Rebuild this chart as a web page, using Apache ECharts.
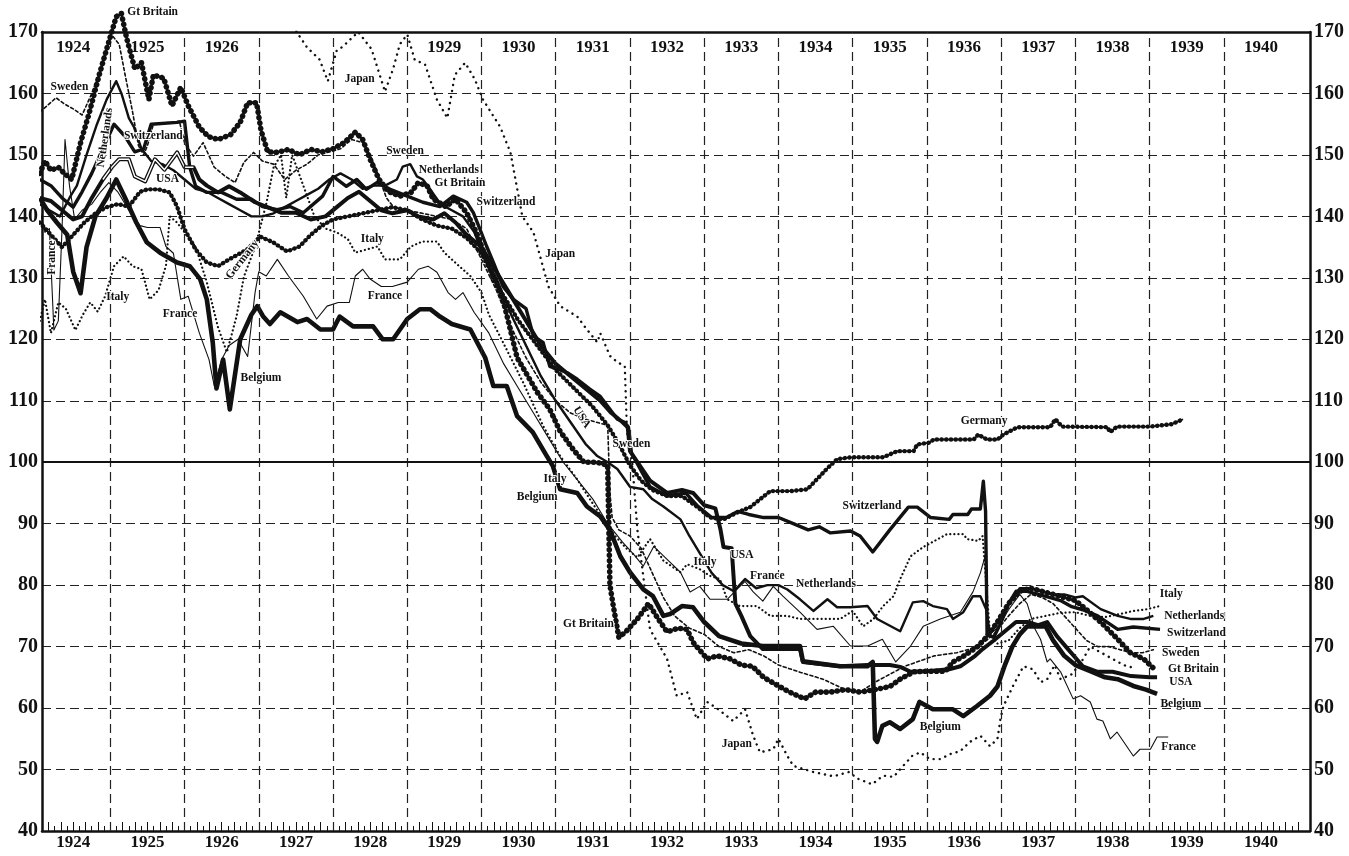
<!DOCTYPE html>
<html>
<head>
<meta charset="utf-8">
<script src="https://cdn.jsdelivr.net/npm/echarts@6/dist/echarts.min.js"></script>
<style>
  html, body { margin: 0; background: #fff; }
  #chart { width: 1349px; height: 856px; }
</style>
</head>
<body>
<div id="chart"></div>
<script>
// wholesale price indices in gold, [year, index]
const GT_BRITAIN = [[1924.05,147],[1924.12,149],[1924.2,147.5],[1924.3,148],[1924.38,147],[1924.48,146],[1924.6,152],[1924.72,157],[1924.85,163],[1924.97,168],[1925.08,172.5],[1925.15,173],[1925.22,169],[1925.33,164],[1925.42,165],[1925.52,159],[1925.58,163],[1925.72,162.5],[1925.83,158],[1925.95,161],[1926.05,158],[1926.2,154.5],[1926.32,153],[1926.45,152.5],[1926.62,153.3],[1926.75,155.3],[1926.85,158.5],[1926.97,158.5],[1927.03,154],[1927.12,150.5],[1927.25,150.4],[1927.4,150.9],[1927.55,150],[1927.7,150.9],[1927.85,150.5],[1928.0,151],[1928.15,152],[1928.3,153.7],[1928.4,152.5],[1928.5,149.3],[1928.62,146],[1928.75,144],[1928.9,143.3],[1929.05,143.9],[1929.15,145.5],[1929.27,144.9],[1929.35,142.8],[1929.52,141.6],[1929.65,142.8],[1929.8,140.6],[1929.93,137.4],[1930.1,132],[1930.3,126],[1930.48,117],[1930.75,111.4],[1930.92,108.6],[1931.06,105],[1931.24,102],[1931.38,100],[1931.55,100],[1931.7,99.5],[1931.73,80],[1931.77,77],[1931.85,71.5],[1931.95,72.5],[1932.1,74.5],[1932.25,77],[1932.38,74.5],[1932.5,72.4],[1932.65,73],[1932.77,72.8],[1932.85,70.7],[1933.04,68],[1933.17,68.5],[1933.35,68],[1933.5,67],[1933.65,66.8],[1933.8,65],[1934.0,63.6],[1934.15,62.6],[1934.35,61.5],[1934.5,62.6],[1934.7,62.6],[1934.9,63],[1935.1,62.6],[1935.3,63],[1935.5,63.5],[1935.64,64.7],[1935.82,65.9],[1936.0,66],[1936.25,66],[1936.35,67.5],[1936.5,68.5],[1936.68,70],[1936.8,71.5],[1936.95,74],[1937.1,77],[1937.25,79],[1937.4,79.5],[1937.55,79],[1937.7,78.5],[1937.85,78],[1938.0,77.5],[1938.15,76],[1938.34,74],[1938.57,71.2],[1938.74,69],[1938.92,68],[1939.05,66.5]];

const SWEDEN = [[1924.05,157],[1924.15,158],[1924.27,159.3],[1924.38,158.3],[1924.5,157.5],[1924.62,156.5],[1924.75,160],[1924.9,165],[1925.02,169.5],[1925.12,168],[1925.2,163],[1925.3,157],[1925.38,151.5],[1925.45,150],[1925.5,151.5],[1925.58,155],[1925.7,155.2],[1925.85,155.3],[1925.93,155.5],[1926.0,152],[1926.12,149.8],[1926.25,152],[1926.4,148],[1926.55,146.5],[1926.68,145.5],[1926.8,148.8],[1926.93,150.4],[1927.05,149],[1927.2,148.5],[1927.35,146],[1927.5,147.5],[1927.65,148.5],[1927.8,150],[1927.95,150.5],[1928.1,151],[1928.25,152.5],[1928.4,152],[1928.5,150],[1928.6,147],[1928.72,143],[1928.85,141],[1929.0,141],[1929.2,140.5],[1929.4,140],[1929.6,139.5],[1929.8,138],[1930.0,133],[1930.2,128],[1930.4,122],[1930.6,117],[1930.8,113],[1931.0,110],[1931.2,108],[1931.4,107],[1931.55,106.5],[1931.7,106],[1931.73,95],[1931.76,91],[1931.85,89],[1932.0,88],[1932.15,86],[1932.3,82],[1932.45,78],[1932.6,75],[1932.8,73],[1933.0,72],[1933.2,70],[1933.4,69],[1933.6,69.5],[1933.8,68.5],[1934.0,67],[1934.3,65.8],[1934.6,64.7],[1934.9,63],[1935.1,62.6],[1935.3,64.2],[1935.5,65.5],[1935.7,66.8],[1936.1,68.5],[1936.4,69],[1936.7,70],[1936.9,72],[1937.1,75],[1937.25,77],[1937.4,78.5],[1937.55,78],[1937.7,77],[1937.85,75],[1938.0,73],[1938.15,71],[1938.3,70],[1938.45,70],[1938.6,69.5],[1938.75,69],[1938.9,69],[1939.05,69.5]];

const NETHERLANDS = [[1924.05,142],[1924.18,141],[1924.32,140],[1924.45,143],[1924.55,145],[1924.68,150],[1924.82,155],[1924.95,159],[1925.08,162],[1925.15,160],[1925.25,156],[1925.32,154.5],[1925.42,151],[1925.55,149],[1925.7,148.5],[1925.85,147.5],[1926.0,146],[1926.15,144.5],[1926.3,144],[1926.45,143],[1926.6,142],[1926.75,141],[1926.9,140],[1927.05,140],[1927.2,140.5],[1927.35,141.5],[1927.5,142.5],[1927.65,143.5],[1927.8,144.5],[1927.95,146],[1928.1,147],[1928.25,146],[1928.4,144.5],[1928.55,145],[1928.7,145],[1928.86,146],[1928.94,148.1],[1929.04,148.5],[1929.13,146.5],[1929.21,146],[1929.31,144.4],[1929.45,142],[1929.6,141],[1929.75,140],[1929.9,137.5],[1930.05,133],[1930.2,130],[1930.4,124],[1930.6,119],[1930.8,114],[1931.0,110],[1931.2,106.5],[1931.4,103],[1931.56,101],[1931.7,100],[1931.83,98.9],[1932.0,96],[1932.18,95.6],[1932.3,94],[1932.45,92.8],[1932.68,90.7],[1932.8,88],[1932.95,85],[1933.1,82],[1933.25,80],[1933.4,79],[1933.55,81],[1933.7,79.5],[1933.85,80],[1934.0,80],[1934.12,79.3],[1934.29,77.7],[1934.47,75.8],[1934.66,77.7],[1934.79,76.4],[1934.97,76.4],[1935.2,76.6],[1935.33,74.5],[1935.64,72.5],[1935.81,77.2],[1935.95,77.4],[1936.08,76.6],[1936.27,76.1],[1936.35,74.5],[1936.49,75.6],[1936.62,78.2],[1936.72,78.2],[1936.8,76],[1936.85,72],[1936.95,74],[1937.1,77],[1937.25,79.5],[1937.4,79.5],[1937.55,79],[1937.7,78.5],[1937.85,78.5],[1938.0,78],[1938.1,78.2],[1938.34,76.1],[1938.57,75],[1938.74,74.5],[1938.92,74.5],[1939.05,75]];

const SWITZERLAND = [[1924.05,146],[1924.2,145],[1924.35,143],[1924.5,141.5],[1924.62,144],[1924.75,147],[1924.9,151],[1925.05,155],[1925.2,153],[1925.33,150.5],[1925.45,151],[1925.55,155],[1925.9,155.3],[1926.0,155.5],[1926.07,148],[1926.15,144.9],[1926.3,143.9],[1926.5,143.9],[1926.7,142.8],[1926.9,142.8],[1927.05,141.6],[1927.25,141.1],[1927.42,141.6],[1927.6,140.6],[1927.86,143.3],[1928.0,146.5],[1928.18,144.9],[1928.32,146],[1928.45,144.4],[1928.59,145.5],[1928.77,144.4],[1929.0,143.3],[1929.21,142.3],[1929.44,141.6],[1929.62,143.3],[1929.8,142.3],[1929.89,140.6],[1929.98,137.9],[1930.07,135.1],[1930.16,132.5],[1930.29,128.6],[1930.43,126.5],[1930.6,125],[1930.7,120.5],[1930.83,119.5],[1930.92,115.6],[1931.15,114.6],[1931.29,113.5],[1931.46,111.9],[1931.6,110.7],[1931.73,108.6],[1931.83,107],[1931.93,106.5],[1931.98,105.7],[1932.02,101.5],[1932.27,96],[1932.5,94.5],[1932.75,95],[1932.9,93],[1933.1,91],[1933.3,91],[1933.45,92],[1933.6,91.5],[1933.8,91],[1934.0,91],[1934.2,90],[1934.4,89],[1934.55,89.5],[1934.7,88.5],[1934.97,88.8],[1935.1,88],[1935.27,85.4],[1935.5,89],[1935.75,92.7],[1935.87,92.7],[1936.05,91],[1936.3,90.7],[1936.35,91.5],[1936.55,91.5],[1936.6,92.4],[1936.72,92.4],[1936.76,96.9],[1936.79,92],[1936.81,72],[1936.9,71.5],[1937.0,74],[1937.1,77],[1937.2,79],[1937.35,79],[1937.5,78.5],[1937.65,78],[1937.8,77.5],[1937.95,76.5],[1938.1,76],[1938.3,75],[1938.57,72.8],[1938.78,73.2],[1939.14,72.8]];

const USA = [[1924.05,143],[1924.2,142.5],[1924.35,141],[1924.5,139.5],[1924.62,140],[1924.75,143],[1924.9,146],[1925.02,148],[1925.12,149.3],[1925.25,149.3],[1925.33,146.5],[1925.47,145.7],[1925.6,149.3],[1925.73,147.6],[1925.9,150.4],[1926.0,148],[1926.12,148],[1926.2,146],[1926.3,145],[1926.45,143.9],[1926.6,144.9],[1926.75,143.9],[1926.95,142.3],[1927.1,141.6],[1927.3,140.6],[1927.5,140.6],[1927.7,139.5],[1927.9,140],[1928.05,141.5],[1928.2,143],[1928.35,144],[1928.5,142.5],[1928.65,141],[1928.8,140.5],[1929.0,141],[1929.15,140],[1929.35,139.5],[1929.5,140.5],[1929.65,139],[1929.8,137],[1930.0,135],[1930.2,131],[1930.35,128],[1930.5,125],[1930.65,122],[1930.8,119],[1931.0,116],[1931.2,114],[1931.4,112],[1931.6,110],[1931.75,108],[1931.9,106.5],[1931.97,105.7],[1932.0,101.8],[1932.27,97],[1932.5,95],[1932.7,95.5],[1932.85,95],[1933.0,93],[1933.15,92.5],[1933.22,89],[1933.26,86.2],[1933.37,86],[1933.42,77],[1933.5,75],[1933.62,71.7],[1933.79,69.6],[1934.29,69.6],[1934.33,67.5],[1934.83,66.8],[1935.2,67],[1935.5,67],[1935.64,66.7],[1935.78,65.9],[1936.0,66],[1936.3,66.3],[1936.45,66.8],[1936.65,68.5],[1936.75,69.6],[1936.9,71],[1937.05,72.5],[1937.2,74],[1937.35,74],[1937.5,73.5],[1937.62,74],[1937.75,71.7],[1937.9,69.6],[1938.1,66.8],[1938.3,65.9],[1938.5,65.9],[1938.75,65.2],[1939.0,65],[1939.1,65]];

const BELGIUM = [[1924.05,143],[1924.15,141],[1924.28,139],[1924.42,137],[1924.5,131],[1924.6,127.5],[1924.68,135],[1924.8,140],[1924.95,143],[1925.08,146],[1925.2,143],[1925.35,139],[1925.49,135.8],[1925.67,134.1],[1925.9,132.5],[1926.07,131.9],[1926.21,129.8],[1926.3,126.5],[1926.38,119.5],[1926.43,112],[1926.52,116.7],[1926.61,108.6],[1926.75,120],[1926.9,124],[1926.98,125.4],[1927.06,123.7],[1927.15,122.5],[1927.29,124.4],[1927.52,122.8],[1927.65,123.3],[1927.83,121.6],[1928.0,121.6],[1928.09,123.7],[1928.27,122.1],[1928.54,122.1],[1928.67,120],[1928.81,120],[1929.0,123.3],[1929.17,124.9],[1929.31,124.9],[1929.44,123.7],[1929.6,122.5],[1929.85,121.6],[1930.05,117],[1930.16,112.4],[1930.34,112.4],[1930.48,107.5],[1930.69,104.9],[1930.88,101],[1930.96,99.4],[1931.06,95.6],[1931.29,95],[1931.42,92.8],[1931.6,91.2],[1931.73,89],[1931.87,84.7],[1932.0,82.1],[1932.18,79.3],[1932.31,78.2],[1932.45,75],[1932.54,75.3],[1932.7,76.6],[1932.85,76.4],[1933.0,74],[1933.2,71.7],[1933.5,70.5],[1933.79,70.1],[1934.29,70.1],[1934.33,67.6],[1934.83,66.8],[1935.2,66.8],[1935.27,67.5],[1935.3,55],[1935.33,54.5],[1935.4,57.1],[1935.5,57.7],[1935.64,56.6],[1935.81,58.2],[1935.9,61],[1936.08,59.8],[1936.35,59.8],[1936.49,58.7],[1936.67,60.3],[1936.85,62],[1936.95,63.5],[1937.05,67],[1937.15,70],[1937.25,72],[1937.35,73.3],[1937.6,73.3],[1937.7,71],[1937.85,68.5],[1938.0,67],[1938.2,66],[1938.4,65],[1938.57,64.7],[1938.78,63.6],[1938.95,63],[1939.1,62.3]];

const FRANCE = [[1924.05,141],[1924.12,137.4],[1924.18,138],[1924.24,121.5],[1924.3,123],[1924.35,138],[1924.39,152.5],[1924.45,145],[1924.52,139.5],[1924.62,141],[1924.75,142],[1924.87,144],[1924.98,145.5],[1925.1,144],[1925.25,141],[1925.4,138.5],[1925.5,138.2],[1925.67,138.2],[1925.75,135.1],[1925.85,134],[1925.95,126.5],[1926.05,127],[1926.2,121],[1926.33,116.7],[1926.4,112.4],[1926.5,116.7],[1926.6,119],[1926.72,120],[1926.85,117.2],[1926.95,127.6],[1927.0,131],[1927.1,130.3],[1927.25,133],[1927.4,130.3],[1927.6,127],[1927.78,123.3],[1927.92,125.4],[1928.07,126],[1928.22,126],[1928.3,130.3],[1928.4,131.4],[1928.5,129.8],[1928.65,128.6],[1928.8,128.6],[1929.0,129.3],[1929.15,131.4],[1929.28,131.9],[1929.4,130.9],[1929.55,127.6],[1929.65,126.5],[1929.75,127.6],[1929.9,124.4],[1930.1,121],[1930.3,116],[1930.5,112],[1930.7,108],[1930.9,104],[1931.1,100],[1931.3,97],[1931.5,94],[1931.7,90],[1931.9,87],[1932.05,85],[1932.18,83.1],[1932.32,86.3],[1932.5,84.2],[1932.68,82.1],[1932.81,78.9],[1932.94,79.8],[1933.08,77.7],[1933.31,77.7],[1933.44,79.3],[1933.55,80.6],[1933.66,78.9],[1933.79,77.4],[1933.93,79.8],[1934.06,78.2],[1934.3,75.5],[1934.52,72.8],[1934.74,73.3],[1934.97,70.1],[1935.2,70.1],[1935.4,71.2],[1935.58,67.5],[1935.78,70.1],[1935.95,73.3],[1936.18,74.5],[1936.45,75.6],[1936.62,78.9],[1936.72,82],[1936.79,85],[1936.83,72],[1936.95,73],[1937.1,76],[1937.25,78.5],[1937.35,77],[1937.45,73],[1937.53,71.2],[1937.62,67.5],[1937.66,68],[1937.8,65.9],[1937.97,61.5],[1938.07,62],[1938.2,61],[1938.29,58.2],[1938.37,57.9],[1938.47,55],[1938.56,56.1],[1938.78,52.2],[1938.87,53.3],[1939.01,53.3],[1939.1,55.3],[1939.25,55.3]];

const ITALY = [[1924.05,123],[1924.12,126.5],[1924.2,121],[1924.3,126],[1924.4,125],[1924.53,121.5],[1924.63,124],[1924.73,126],[1924.83,124.5],[1924.93,127],[1925.05,131.9],[1925.18,133.5],[1925.3,131.9],[1925.42,131.4],[1925.53,126.5],[1925.65,128],[1925.75,132],[1925.8,140],[1925.9,139],[1926.0,137.4],[1926.15,135],[1926.3,129.3],[1926.45,122],[1926.57,117.9],[1926.7,123.7],[1926.8,130.2],[1926.95,135],[1927.1,142],[1927.2,148],[1927.3,150],[1927.37,143],[1927.45,150],[1927.6,145],[1927.75,140],[1927.9,138],[1928.05,137.4],[1928.2,136.3],[1928.3,134.1],[1928.45,134.6],[1928.6,135.1],[1928.7,133],[1928.9,133],[1929.05,135.1],[1929.2,135.9],[1929.4,135.9],[1929.5,134.1],[1929.7,131.9],[1929.85,130.3],[1930.0,127.6],[1930.1,124],[1930.29,119.5],[1930.56,113],[1930.83,105.9],[1931.06,101],[1931.29,97.2],[1931.46,94],[1931.64,90.7],[1931.8,88],[1931.95,86],[1932.1,84.5],[1932.27,87.5],[1932.45,84],[1932.68,82.1],[1932.77,83.4],[1932.94,82.6],[1933.08,81.5],[1933.21,81],[1933.31,77.7],[1933.48,76.6],[1933.71,76.6],[1933.89,75],[1934.12,75],[1934.29,74.5],[1934.83,74.5],[1935.0,75.8],[1935.14,73.3],[1935.28,74.5],[1935.41,76.6],[1935.55,78.2],[1935.64,81],[1935.78,84.7],[1935.95,86.2],[1936.27,88.3],[1936.49,88.3],[1936.54,87.5],[1936.69,87.2],[1936.75,88],[1936.8,80],[1936.85,72],[1936.95,70.5],[1937.1,71],[1937.25,73],[1937.4,74.5],[1937.6,75],[1937.8,75.5],[1938.0,75.6],[1938.2,75],[1938.4,74.8],[1938.6,75.3],[1938.78,75.8],[1938.97,76.1],[1939.14,76.6]];

const GERMANY = [[1924.05,139],[1924.2,137],[1924.35,135],[1924.5,137],[1924.65,139],[1924.8,140.5],[1924.95,141.5],[1925.1,142],[1925.25,141.6],[1925.4,144],[1925.5,144.4],[1925.65,144.4],[1925.8,143.9],[1925.9,141.6],[1926.0,137.9],[1926.15,134.6],[1926.3,132.5],[1926.45,131.9],[1926.6,133],[1926.84,134.6],[1927.02,136.7],[1927.19,135.8],[1927.38,134.3],[1927.55,135.1],[1927.7,137],[1927.85,138.5],[1928.0,139.5],[1928.2,140],[1928.4,140.5],[1928.6,141],[1928.8,141.5],[1929.0,141],[1929.2,139.5],[1929.4,138.5],[1929.6,138],[1929.8,136.5],[1930.0,134],[1930.25,128],[1930.5,123],[1930.75,119],[1931.0,115],[1931.25,112],[1931.5,109],[1931.7,106],[1931.85,103],[1932.0,99.5],[1932.15,97],[1932.3,95.5],[1932.5,94.5],[1932.7,94.5],[1932.9,92.8],[1933.08,91],[1933.26,90.7],[1933.44,91.8],[1933.62,92.7],[1933.89,95.3],[1934.16,95.3],[1934.39,95.6],[1934.65,98.9],[1934.79,100.5],[1934.97,100.8],[1935.41,100.8],[1935.6,101.8],[1935.82,101.8],[1935.87,102.9],[1936.04,103.2],[1936.09,103.7],[1936.63,103.7],[1936.69,104.5],[1936.81,103.7],[1936.95,103.7],[1937.03,104.5],[1937.22,105.7],[1937.66,105.7],[1937.73,107],[1937.82,105.8],[1938.43,105.7],[1938.47,104.9],[1938.56,105.8],[1939.01,105.8],[1939.3,106.2],[1939.45,107]];

const JAPAN = [[1927.45,172],[1927.51,170],[1927.65,167.5],[1927.82,165.5],[1927.93,162],[1928.05,167],[1928.13,167.6],[1928.25,169],[1928.34,170],[1928.52,167.2],[1928.7,160.3],[1928.81,164],[1928.9,168],[1929.0,169.6],[1929.1,165.5],[1929.24,164.7],[1929.4,159],[1929.54,156],[1929.64,163],[1929.78,165],[1929.91,162.3],[1930.02,159],[1930.25,154.6],[1930.39,150.4],[1930.49,143.9],[1930.55,140],[1930.7,137.4],[1930.79,133.5],[1930.9,128.6],[1931.06,125.4],[1931.29,123.7],[1931.42,121.6],[1931.56,119.5],[1931.6,121],[1931.73,117.3],[1931.83,116.3],[1931.93,115.6],[1931.96,105],[1932.03,100],[1932.1,89],[1932.27,72.8],[1932.5,68],[1932.63,62],[1932.77,62.6],[1932.9,58.2],[1933.04,61],[1933.19,59.8],[1933.39,57.9],[1933.55,59.8],[1933.66,55.5],[1933.75,52.8],[1933.93,53.3],[1934.0,55],[1934.12,52.2],[1934.2,50.6],[1934.47,49.6],[1934.74,48.9],[1934.95,49.6],[1935.07,48.5],[1935.26,47.6],[1935.41,49],[1935.55,48.8],[1935.68,50.6],[1935.8,52.2],[1935.91,52.8],[1936.04,51.7],[1936.18,51.7],[1936.31,52.5],[1936.45,53],[1936.58,54.5],[1936.72,55.5],[1936.85,53.8],[1936.95,55],[1936.99,58.2],[1937.03,60.3],[1937.16,63.6],[1937.3,66.8],[1937.43,66.3],[1937.53,64.2],[1937.62,64.7],[1937.72,67],[1937.8,64.7],[1937.95,65.5],[1938.08,67.5],[1938.2,70],[1938.35,69],[1938.5,68],[1938.65,67],[1938.8,66.5]];

const TOP_YEARS = [1924, 1925, 1926, 1929, 1930, 1931, 1932, 1933, 1934, 1935, 1936, 1937, 1938, 1939, 1940];
const BOTTOM_YEARS = [1924, 1925, 1926, 1927, 1928, 1929, 1930, 1931, 1932, 1933, 1934, 1935, 1936, 1937, 1938, 1939, 1940];

// text annotations: [text, year, index, rotation in degrees]
const LABELS = [
  ['Gt Britain', 1925.57, 173.3, 0],
  ['Sweden', 1924.45, 161, 0],
  ['Netherlands', 1924.93, 152.8, 82],
  ['Switzerland', 1925.58, 153, 0],
  ['USA', 1925.77, 146, 0],
  ['France', 1924.21, 133.3, 90],
  ['Italy', 1925.1, 126.8, 0],
  ['France', 1925.94, 124.1, 0],
  ['Germany', 1926.78, 133, 52],
  ['Belgium', 1927.03, 113.7, 0],
  ['Japan', 1928.36, 162.3, 0],
  ['Sweden', 1928.97, 150.6, 0],
  ['Netherlands', 1929.56, 147.6, 0],
  ['Gt Britain', 1929.71, 145.5, 0],
  ['Switzerland', 1930.33, 142.3, 0],
  ['Italy', 1928.53, 136.3, 0],
  ['France', 1928.7, 127, 0],
  ['Japan', 1931.06, 133.8, 0],
  ['USA', 1931.35, 107.3, -58],
  ['Sweden', 1932.02, 102.9, 0],
  ['Italy', 1930.99, 97.2, 0],
  ['Belgium', 1930.75, 94.3, 0],
  ['Germany', 1936.77, 106.7, 0],
  ['Switzerland', 1935.26, 92.8, 0],
  ['Italy', 1933.01, 83.7, 0],
  ['USA', 1933.51, 84.9, 0],
  ['France', 1933.85, 81.5, 0],
  ['Netherlands', 1934.64, 80.2, 0],
  ['Gt Britain', 1931.44, 73.7, 0],
  ['Japan', 1933.44, 54.1, 0],
  ['Belgium', 1936.18, 56.9, 0],
  ['Italy', 1939.29, 78.5, 0],
  ['Netherlands', 1939.6, 75, 0],
  ['Switzerland', 1939.63, 72.2, 0],
  ['Sweden', 1939.42, 68.9, 0],
  ['Gt Britain', 1939.59, 66.3, 0],
  ['USA', 1939.42, 64.2, 0],
  ['Belgium', 1939.42, 60.7, 0],
  ['France', 1939.39, 53.7, 0]
];

const X_MIN = 1924.08;
const X_MAX = 1941.16;
const INK = '#111';
const SERIF = '"Liberation Serif", "DejaVu Serif", serif';

function lineSeries(name, data, style) {
  return {
    name,
    type: 'line',
    data,
    xAxisIndex: 0,
    yAxisIndex: 0,
    silent: true,
    animation: false,
    clip: style.clip !== false,
    showSymbol: false,
    lineStyle: {
      color: style.color || INK,
      width: style.width,
      type: style.dash || 'solid',
      cap: style.dash ? 'round' : 'butt',
      join: 'round'
    },
    z: style.z || 3
  };
}

const monthTicks = [];
for (let m = 0; m <= 17 * 12; m++) {
  const v = 1924 + m / 12;
  if (v > X_MIN && v < X_MAX) monthTicks.push(v);
}
const longTicks = monthTicks.filter((_, i) => i % 2 === 1);

const series = [
  lineSeries('France', FRANCE, { width: 1.1 }),
  lineSeries('Japan', JAPAN, { width: 2.4, dash: [0.1, 6] }),
  lineSeries('Italy', ITALY, { width: 2.2, dash: [0.1, 4] }),
  lineSeries('Sweden', SWEDEN, { width: 1.6, dash: [3, 2.6] }),
  lineSeries('Netherlands', NETHERLANDS, { width: 2.4 }),
  lineSeries('Switzerland', SWITZERLAND, { width: 3.4 }),
  lineSeries('USA', USA, { width: 4 }),
  lineSeries('USA hollow', USA.filter(p => p[0] >= 1924.9 && p[0] <= 1926.12), { width: 1.4, color: '#fff', z: 4 }),
  lineSeries('Belgium', BELGIUM, { width: 4.6 }),
  lineSeries('Germany', GERMANY, { width: 1.8 }),
  lineSeries('Germany beads', GERMANY, { width: 4.4, dash: [0.1, 4.6], z: 5 }),
  lineSeries('Gt Britain', GT_BRITAIN, { width: 2.2, clip: false }),
  lineSeries('Gt Britain beads', GT_BRITAIN, { width: 5.6, dash: [0.1, 5.4], clip: false, z: 5 })
];

// grid: dashed year boundaries and the solid 100 line
series[0].markLine = {
  silent: true,
  symbol: 'none',
  animation: false,
  label: { show: false },
  lineStyle: { color: '#222', width: 1.2, type: [9, 5] },
  data: BOTTOM_YEARS.slice(1).map(y => ({ xAxis: y })).concat([
    { yAxis: 100, lineStyle: { type: 'solid', width: 1.8, color: INK } }
  ])
};

const yearLabel = v => String(Math.floor(v));

const option = {
  animation: false,
  backgroundColor: '#fff',
  grid: { left: 42, right: 39, top: 32, bottom: 25 },
  xAxis: [
    {
      type: 'value', position: 'bottom', min: X_MIN, max: X_MAX,
      axisLine: { show: true, onZero: false, lineStyle: { color: INK, width: 2.5 } },
      axisTick: { show: true, inside: true, length: 5, customValues: monthTicks, lineStyle: { color: INK, width: 1 } },
      axisLabel: {
        customValues: BOTTOM_YEARS.map(y => y + 0.5), formatter: yearLabel,
        fontFamily: SERIF, fontSize: 17, fontWeight: 'bold', color: INK, margin: 3
      },
      splitLine: { show: false }
    },
    {
      type: 'value', position: 'bottom', min: X_MIN, max: X_MAX,
      axisLine: { show: false, onZero: false },
      axisTick: { show: true, inside: true, length: 9, customValues: longTicks, lineStyle: { color: INK, width: 1 } },
      axisLabel: { show: false },
      splitLine: { show: false }
    },
    {
      type: 'value', position: 'top', min: X_MIN, max: X_MAX,
      axisLine: { show: true, onZero: false, lineStyle: { color: INK, width: 2.5 } },
      axisTick: { show: false },
      axisLabel: {
        inside: true, customValues: TOP_YEARS.map(y => y + 0.5), formatter: yearLabel,
        fontFamily: SERIF, fontSize: 17, fontWeight: 'bold', color: INK, margin: 7
      },
      splitLine: { show: false }
    }
  ],
  yAxis: [
    {
      type: 'value', position: 'left', min: 40, max: 170, interval: 10,
      axisLine: { show: true, onZero: false, lineStyle: { color: INK, width: 2.5 } },
      axisTick: { show: false },
      axisLabel: { fontFamily: SERIF, fontSize: 20, fontWeight: 'bold', color: INK, margin: 4 },
      splitLine: { show: true, lineStyle: { color: '#222', width: 1.2, type: [9, 5] } }
    },
    {
      type: 'value', position: 'right', min: 40, max: 170, interval: 10,
      axisLine: { show: true, onZero: false, lineStyle: { color: INK, width: 2.5 } },
      axisTick: { show: false },
      axisLabel: { fontFamily: SERIF, fontSize: 20, fontWeight: 'bold', color: INK, margin: 4 },
      splitLine: { show: false }
    }
  ],
  series
};

const chart = echarts.init(document.getElementById('chart'), null, { renderer: 'canvas' });
chart.setOption(option);

const graphic = LABELS.map(([text, t, v, rot]) => {
  const [px, py] = chart.convertToPixel({ xAxisIndex: 0, yAxisIndex: 0 }, [t, v]);
  return {
    type: 'text',
    x: px,
    y: py,
    rotation: rot * Math.PI / 180,
    silent: true,
    z: 100,
    style: {
      text,
      font: 'bold 11.5px ' + SERIF,
      fill: INK,
      stroke: '#fff',
      lineWidth: 2,
      align: 'center',
      verticalAlign: 'middle',
      textAlign: 'center',
      textVerticalAlign: 'middle'
    }
  };
});
chart.setOption({ graphic });
</script>
</body>
</html>
